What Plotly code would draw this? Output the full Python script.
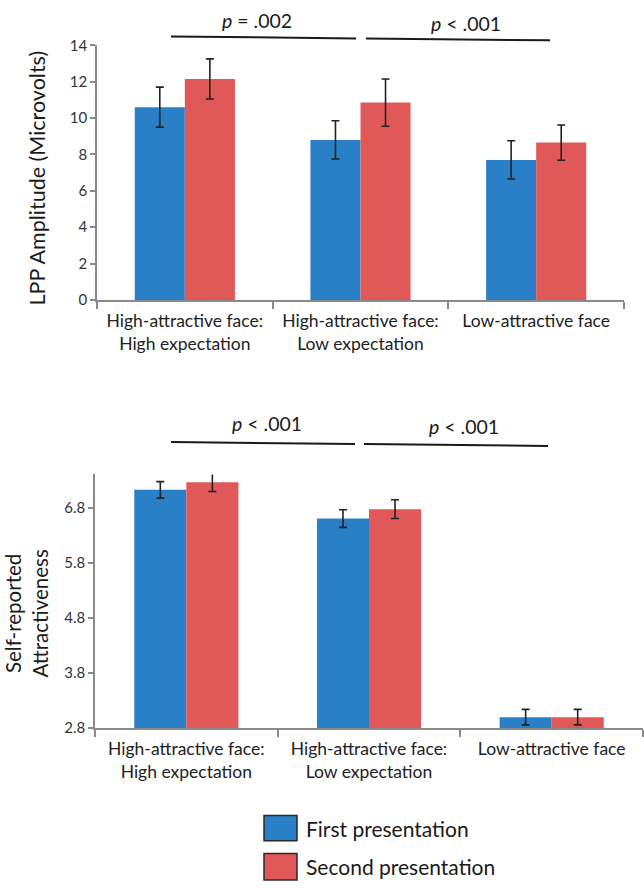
import plotly.graph_objects as go

W, H = 644, 890

categories = ["High-attractive face:<br>High expectation",
              "High-attractive face:<br>Low expectation",
              "Low-attractive face"]
series_names = ["First presentation", "Second presentation"]

lpp_first = [10.6, 8.8, 7.7]
lpp_first_err = [1.1, 1.05, 1.05]
lpp_second = [12.15, 10.85, 8.65]
lpp_second_err = [1.1, 1.3, 0.97]

attr_first = [7.12, 6.6, 3.0]
attr_first_err = [0.15, 0.16, 0.14]
attr_second = [7.26, 6.77, 3.0]
attr_second_err = [0.17, 0.17, 0.14]

lpp_ticks = [0, 2, 4, 6, 8, 10, 12, 14]
attr_ticks = [2.8, 3.8, 4.8, 5.8, 6.8]

sig_top = ["<i>p</i> = .002", "<i>p</i> < .001"]
sig_bottom = ["<i>p</i> < .001", "<i>p</i> < .001"]

BLUE = "#2A80C6"
RED = "#E05858"
FONT = "Lato"
AX = "#8a8a8a"


def px_x(x):
    return x / W


def px_y(y):
    return 1 - y / H


fig = go.Figure()

for xa, ya, vals, errs, color, name in [
    ("x", "y", lpp_first, lpp_first_err, BLUE, series_names[0]),
    ("x", "y", lpp_second, lpp_second_err, RED, series_names[1]),
    ("x2", "y2", attr_first, attr_first_err, BLUE, series_names[0]),
    ("x2", "y2", attr_second, attr_second_err, RED, series_names[1]),
]:
    fig.add_trace(go.Bar(
        x=categories, y=vals, name=name, xaxis=xa, yaxis=ya,
        marker=dict(color=color, line=dict(width=0)),
        error_y=dict(type="data", array=errs, color="#222222",
                     thickness=1.6, width=4),
        showlegend=False,
    ))

common_x = dict(
    type="category", showline=True, linecolor=AX, linewidth=1.5,
    ticks="outside", tickson="boundaries", ticklen=7, tickcolor=AX,
    tickwidth=1.5, tickfont=dict(family=FONT, size=17.5, color="#222222"),
    showgrid=False, zeroline=False, ticklabelstandoff=4,
)
common_y = dict(
    showline=True, linecolor=AX, linewidth=1.5, ticks="outside",
    ticklen=5, tickcolor=AX, tickwidth=1.5, showgrid=False, zeroline=False,
    tickfont=dict(family=FONT, size=15, color="#333333"),
)

fig.update_layout(
    width=W, height=H, margin=dict(l=0, r=0, t=0, b=0),
    paper_bgcolor="white", plot_bgcolor="white",
    barmode="group", bargap=0.43, bargroupgap=0,
    font=dict(family=FONT, color="#222222"),
    xaxis=dict(domain=[px_x(97), px_x(624)], anchor="y", **common_x),
    yaxis=dict(domain=[px_y(296), px_y(36)], anchor="x", range=[0, 14],
               tickvals=lpp_ticks, ticktext=[str(t) for t in lpp_ticks],
               **common_y),
    xaxis2=dict(domain=[px_x(95), px_x(643)], anchor="y2", **common_x),
    yaxis2=dict(domain=[px_y(733), px_y(474)], anchor="x2", range=[2.8, 7.4],
                tickvals=attr_ticks, ticktext=[f"{t:.1f}" for t in attr_ticks],
                **common_y),
)

shapes = []
annotations = []

# significance lines and labels
for (x0, x1, y0, y1), (tx, ty), txt in [
    ((171, 356, 27, 29), (257, 11), sig_top[0]),
    ((366, 550, 29, 31), (466, 14), sig_top[1]),
    ((171, 355, 441, 443), (267, 422), sig_bottom[0]),
    ((364, 548, 443, 445), (464, 425), sig_bottom[1]),
]:
    shapes.append(dict(type="line", xref="paper", yref="paper",
                       x0=px_x(x0), x1=px_x(x1), y0=px_y(y0), y1=px_y(y1),
                       line=dict(color="#1a1a1a", width=2)))
    annotations.append(dict(text=txt, xref="paper", yref="paper",
                            x=px_x(tx), y=px_y(ty), showarrow=False,
                            xanchor="center", yanchor="middle",
                            font=dict(family=FONT, size=19.5, color="#1a1a1a")))

# y axis titles
annotations.append(dict(text="LPP Amplitude (Microvolts)", xref="paper",
                        yref="paper", x=px_x(37), y=px_y(172), textangle=-90,
                        showarrow=False, xanchor="center", yanchor="middle",
                        font=dict(family=FONT, size=21.5, color="#1a1a1a")))
annotations.append(dict(text="Self-reported<br>Attractiveness", xref="paper",
                        yref="paper", x=px_x(27), y=px_y(616), textangle=-90,
                        showarrow=False, xanchor="center", yanchor="middle",
                        font=dict(family=FONT, size=20.5, color="#1a1a1a")))

# legend
for (y0, y1), color, name in [((822, 848), BLUE, series_names[0]),
                              ((861, 888), RED, series_names[1])]:
    shapes.append(dict(type="rect", xref="paper", yref="paper",
                       x0=px_x(264), x1=px_x(297), y0=px_y(y1), y1=px_y(y0),
                       fillcolor=color, line=dict(color="#2a2a2a", width=1.5)))
    annotations.append(dict(text=name, xref="paper", yref="paper",
                            x=px_x(304), y=px_y((y0 + y1) / 2),
                            showarrow=False, xanchor="left", yanchor="middle",
                            font=dict(family=FONT, size=21, color="#1a1a1a")))

fig.update_layout(shapes=shapes, annotations=annotations)

fig.write_html("out.html", config={"displayModeBar": False},
               post_script="document.body.style.margin='0px';"
                           "document.body.style.overflow='hidden';")
